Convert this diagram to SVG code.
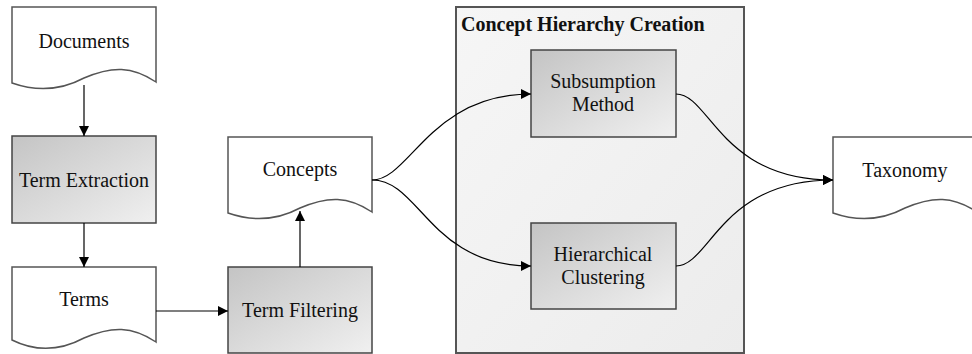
<svg xmlns="http://www.w3.org/2000/svg" width="972" height="354" viewBox="0 0 972 354">
<style>
.t{font-size:20px;fill:#111;text-anchor:middle}
.doc{fill:#fff;stroke:#555;stroke-width:1.5}
.proc{fill:url(#g);stroke:#444;stroke-width:1.5}
.cont{fill:url(#gc);stroke:#555;stroke-width:2}
.c{fill:none;stroke:#000;stroke-width:1.2}
.title{font-weight:bold;text-anchor:start}
</style>
<defs>
<linearGradient id="g" x1="0" y1="0" x2="1" y2="1">
<stop offset="0" stop-color="#c4c4c4"/>
<stop offset="1" stop-color="#f0f0f0"/>
</linearGradient>
<linearGradient id="gc" x1="0" y1="0" x2="1" y2="1">
<stop offset="0" stop-color="#f6f6f6"/>
<stop offset="1" stop-color="#ececec"/>
</linearGradient>
<marker id="a" viewBox="0 0 10 10" refX="10" refY="5" markerWidth="10" markerHeight="10" markerUnits="userSpaceOnUse" orient="auto">
<path d="M0,0 L10,5 L0,10 Z" fill="#000"/>
</marker>
</defs>

<g font-family="Liberation Serif, Times New Roman, DejaVu Serif, serif">
<g id="container">
<rect class="cont" x="456" y="7" width="288" height="346"/>
<text class="t title" x="461" y="31">Concept Hierarchy Creation</text>
</g>

<g id="documents">
<path class="doc" d="M12,7 h144 v75 C132,66 112,66 84,78 C56,93 32,90 12,83 Z"/>
<text class="t" x="84" y="48">Documents</text>
</g>

<g id="term-extraction">
<rect class="proc" x="12" y="136" width="144" height="87"/>
<text class="t" x="84" y="187">Term Extraction</text>
</g>

<g id="terms">
<path class="doc" d="M12,267 h144 v75 C132,326 112,326 84,338 C56,353 32,350 12,340 Z"/>
<text class="t" x="84" y="306">Terms</text>
</g>

<g id="term-filtering">
<rect class="proc" x="228" y="267" width="144" height="86"/>
<text class="t" x="300" y="317">Term Filtering</text>
</g>

<g id="concepts">
<path class="doc" d="M228,137 h144 v75 C348,196 328,196 300,208 C272,223 248,220 228,213 Z"/>
<text class="t" x="300" y="176">Concepts</text>
</g>

<g id="subsumption">
<rect class="proc" x="531" y="50" width="145" height="87"/>
<text class="t" x="603" y="88">Subsumption</text>
<text class="t" x="603" y="111">Method</text>
</g>

<g id="hierarchical">
<rect class="proc" x="531" y="223" width="145" height="86"/>
<text class="t" x="603" y="261">Hierarchical</text>
<text class="t" x="603" y="284">Clustering</text>
</g>

<g id="taxonomy">
<path class="doc" d="M833,137 h144 v75 C953,196 933,196 905,208 C877,223 853,220 833,213 Z"/>
<text class="t" x="905" y="177">Taxonomy</text>
</g>
</g>

<g id="connectors">
<path class="c" d="M84,85 V136" marker-end="url(#a)"/>
<path class="c" d="M84,223 V267" marker-end="url(#a)"/>
<path class="c" d="M156,311 H228" marker-end="url(#a)"/>
<path class="c" d="M300,267 V211" marker-end="url(#a)"/>
<path class="c" d="M372,180 C410,180 430,94 531,94" marker-end="url(#a)"/>
<path class="c" d="M372,180 C420,180 430,266 531,266" marker-end="url(#a)"/>
<path class="c" d="M676,94 C710,94 720,180 833,180" marker-end="url(#a)"/>
<path class="c" d="M676,266 C710,266 720,180 833,180" marker-end="url(#a)"/>
</g>
</svg>
